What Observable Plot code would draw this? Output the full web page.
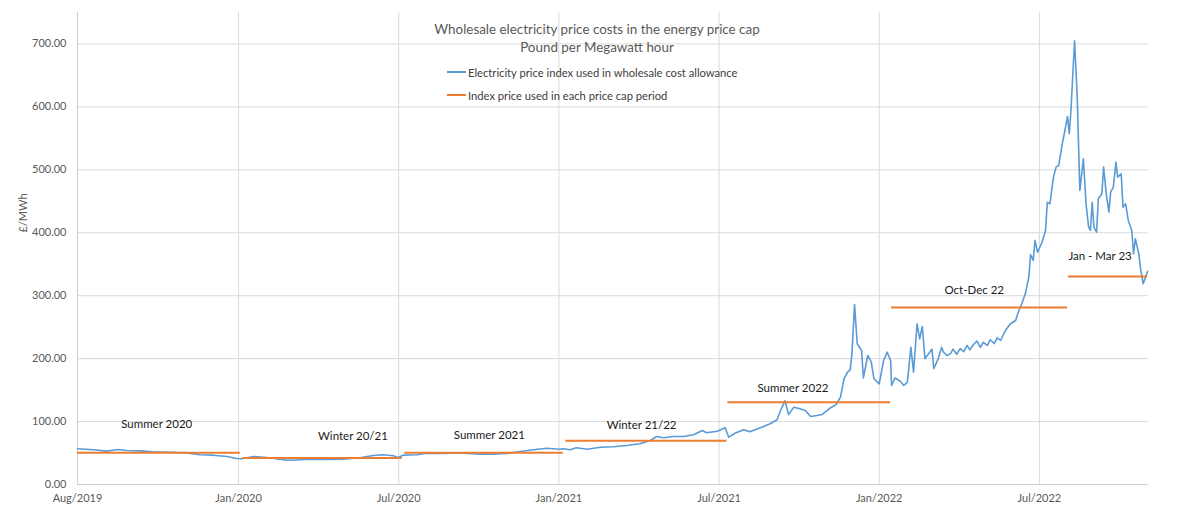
<!DOCTYPE html>
<html>
<head>
<meta charset="utf-8">
<script src="https://cdn.jsdelivr.net/npm/d3@7"></script>
<script src="https://cdn.jsdelivr.net/npm/@observablehq/plot@0.6"></script>
<style>
  html, body { margin: 0; padding: 0; background: #fff; }
  #wrap { position: relative; width: 1200px; height: 521px; font-family: Lato, "Open Sans", sans-serif; }
  .title { position: absolute; left: 0; width: 1194px; text-align: center; color: #595959; font-size: 13.4px; line-height: 16px; }
  .leg { position: absolute; left: 447px; font-size: 11.2px; color: #404040; display: flex; align-items: center; height: 14px; }
  .sw { display: inline-block; width: 19px; height: 0; border-top: 2px solid; margin-right: 2px; }
</style>
</head>
<body>
<div id="wrap"></div>
<script>
// ---- Data ----
const priceDates = [
  "2019-08-01","2019-08-19","2019-09-03","2019-09-16","2019-09-26","2019-10-11","2019-10-26","2019-11-14",
  "2019-12-03","2019-12-18","2020-01-02","2020-01-18","2020-01-29","2020-02-04","2020-02-17","2020-03-03",
  "2020-03-22","2020-04-02","2020-04-18","2020-05-10","2020-05-29","2020-06-17","2020-07-02","2020-07-13",
  "2020-07-25","2020-07-30","2020-08-05","2020-08-21","2020-09-01","2020-09-20","2020-10-09","2020-11-01",
  "2020-11-15","2020-12-01","2020-12-16","2020-12-31","2021-01-15","2021-01-30","2021-02-03","2021-02-11",
  "2021-02-18","2021-03-02","2021-03-17","2021-04-01","2021-04-16","2021-05-01","2021-05-13","2021-05-20",
  "2021-05-28","2021-06-08","2021-06-20","2021-07-01","2021-07-11","2021-07-16","2021-07-28","2021-08-06",
  "2021-08-10","2021-08-17","2021-08-27","2021-09-03","2021-09-15","2021-09-26","2021-10-04","2021-10-08",
  "2021-10-13","2021-10-17","2021-10-23","2021-10-30","2021-11-05","2021-11-11","2021-11-18","2021-11-24",
  "2021-12-02","2021-12-10","2021-12-15","2021-12-19","2021-12-23","2021-12-26","2021-12-28","2021-12-31",
  "2022-01-03","2022-01-08","2022-01-10","2022-01-15","2022-01-19","2022-01-22","2022-01-28","2022-02-02",
  "2022-02-06","2022-02-10","2022-02-11","2022-02-15","2022-02-21","2022-02-25","2022-03-01","2022-03-05",
  "2022-03-08","2022-03-12","2022-03-15","2022-03-18","2022-03-21","2022-03-25","2022-03-29","2022-03-31",
  "2022-04-05","2022-04-09","2022-04-11","2022-04-15","2022-04-19","2022-04-22","2022-04-26","2022-04-30",
  "2022-05-04","2022-05-08","2022-05-11","2022-05-15","2022-05-19","2022-05-23","2022-05-26","2022-05-31",
  "2022-06-03","2022-06-08","2022-06-11","2022-06-15","2022-06-18","2022-06-22","2022-06-26","2022-07-02",
  "2022-07-05","2022-07-09","2022-07-13","2022-07-17","2022-07-19","2022-07-22","2022-07-24","2022-07-27",
  "2022-08-01","2022-08-05","2022-08-07","2022-08-10","2022-08-14","2022-08-17","2022-08-20","2022-08-24",
  "2022-08-27","2022-08-30","2022-09-01","2022-09-03","2022-09-07","2022-09-10","2022-09-13","2022-09-17",
  "2022-09-20","2022-09-23","2022-09-25","2022-09-27","2022-09-29","2022-10-02","2022-10-04","2022-10-08",
  "2022-10-10","2022-10-13","2022-10-16","2022-10-18","2022-10-21","2022-10-24","2022-10-26","2022-10-30",
  "2022-11-01","2022-11-04","2022-11-07","2022-11-11","2022-11-13","2022-11-15","2022-11-19","2022-11-21",
  "2022-11-24","2022-11-26","2022-11-29"
];
const priceValues = [
  56.7,55.1,53.0,55.6,54.0,53.5,52.0,51.3,
  50.3,47.2,46.6,44.5,41.3,40.8,44.5,42.9,
  39.2,38.6,40.2,39.7,40.2,42.4,46.0,47.2,
  45.6,42.9,46.6,47.2,49.7,49.3,50.3,48.2,
  48.2,49.3,52.4,55.1,57.7,56.1,56.7,55.1,
  58.3,56.1,59.3,59.9,62.0,64.7,69.9,76.3,
  74.2,76.3,76.3,79.0,85.8,82.2,84.7,90.1,
  75.2,81.5,86.9,83.7,90.1,96.5,102.8,118.0,
  133.0,111.0,122.9,120.3,117.6,108.0,109.6,111.2,
  120.3,127.1,138.8,168.0,178.5,182.2,207.6,286.0,
  223.6,212.9,169.5,205.0,194.3,168.0,160.0,197.0,
  210.3,197.0,157.3,169.5,164.1,157.3,162.6,218.2,
  178.5,255.4,231.5,251.0,199.7,207.6,215.0,183.9,
  199.7,218.0,210.3,205.0,208.0,215.0,207.0,216.0,
  211.0,221.0,214.0,222.0,228.0,218.0,226.0,221.0,
  230.0,224.0,233.0,229.0,238.0,248.0,255.4,260.6,
  273.8,287.1,303.0,329.4,365.5,356.0,387.7,369.1,
  385.0,403.6,448.6,446.0,488.4,504.3,507.0,541.3,
  562.5,584.8,557.3,597.0,705.0,615.6,467.2,517.6,
  446.0,408.9,403.6,448.6,408.9,400.9,454.0,461.9,
  504.3,461.9,432.8,464.5,472.5,512.2,488.4,493.7,
  440.7,446.0,419.5,403.6,366.6,390.4,366.6,342.7,
  318.9,326.9,338.9
];

const periodNames  = ["Summer 2020","Winter 20/21","Summer 2021","Winter 21/22","Summer 2022","Oct-Dec 22","Jan - Mar 23"];
const periodStarts = ["2019-08-01","2020-02-05","2020-08-07","2021-02-06","2021-08-09","2022-02-11","2022-08-31"];
const periodEnds   = ["2020-02-02","2020-08-04","2021-02-03","2021-08-08","2022-02-10","2022-08-30","2022-11-29"];
const periodValues = [50.5, 42.2, 50.4, 69.4, 130.8, 281.3, 330.5];

// where each period's name is written (date, £/MWh)
const labelDates  = ["2019-10-30","2020-06-09","2020-11-11","2021-05-03","2021-10-22","2022-05-16","2022-10-06"];
const labelValues = [95.3, 76.3, 77.9, 94.8, 153.6, 308.3, 362.8];

const xTickDates  = ["2019-08-01","2020-01-31","2020-07-31","2021-01-29","2021-07-30","2022-01-28","2022-07-29"];
const xTickLabels = ["Aug/2019","Jan/2020","Jul/2020","Jan/2021","Jul/2021","Jan/2022","Jul/2022"];
const yTicks = [0, 100, 200, 300, 400, 500, 600, 700];

const titleText = "Wholesale electricity price costs in the energy price cap";
const subtitleText = "Pound per Megawatt hour";
const seriesNames = ["Electricity price index used in wholesale cost allowance", "Index price used in each price cap period"];
const BLUE = "#5B9BD5", ORANGE = "#ED7D31", GRID = "#d9d9d9";

// ---- Build tables ----
const parse = d3.utcParse("%Y-%m-%d");
const series = priceDates.map((d, i) => ({date: parse(d), value: priceValues[i]}));
const periods = periodNames.map((n, i) => ({name: n, start: parse(periodStarts[i]), end: parse(periodEnds[i]), value: periodValues[i]}));
const labels = periodNames.map((n, i) => ({name: n, date: parse(labelDates[i]), value: labelValues[i]}));
const xTicks = xTickDates.map(parse);
const tickLabelFor = d => { const i = xTicks.findIndex(t => +t === +d); return i >= 0 ? xTickLabels[i] : ""; };

const chart = Plot.plot({
  width: 1200,
  height: 521,
  marginLeft: 77,
  marginRight: 52,
  marginTop: 12,
  marginBottom: 37,
  style: {fontFamily: "Lato, 'Open Sans', sans-serif", fontSize: "11px", color: "#595959", background: "white", overflow: "visible"},
  x: {type: "utc", domain: [parse("2019-08-01"), parse("2022-11-30")], ticks: xTicks, tickFormat: tickLabelFor, tickSize: 0, tickPadding: 10, label: null},
  y: {domain: [0, 750], ticks: yTicks, tickFormat: d => d.toFixed(2), tickSize: 0, tickPadding: 11, label: null},
  marks: [
    Plot.ruleY(yTicks.filter(v => v > 0), {stroke: GRID, strokeWidth: 1}),
    Plot.ruleX(xTicks.slice(1), {stroke: GRID, strokeWidth: 1}),
    Plot.ruleY([0], {stroke: "#cfcfcf", strokeWidth: 1}),
    Plot.ruleX([xTicks[0]], {stroke: "#cfcfcf", strokeWidth: 1}),
    Plot.line(series, {x: "date", y: "value", stroke: BLUE, strokeWidth: 1.6, strokeLinejoin: "round"}),
    Plot.ruleY(periods, {y: "value", x1: "start", x2: "end", stroke: ORANGE, strokeWidth: 2}),
    Plot.text(labels, {x: "date", y: "value", text: "name", fill: "#1a1a1a", fontSize: 11.5}),
    Plot.text(["£/MWh"], {frameAnchor: "left", dx: -54, dy: -16, rotate: -90, fill: "#595959", fontSize: 11})
  ]
});

const wrap = document.getElementById("wrap");
wrap.appendChild(chart);

const t1 = document.createElement("div");
t1.className = "title"; t1.style.top = "21px"; t1.textContent = titleText;
const t2 = document.createElement("div");
t2.className = "title"; t2.style.top = "39px"; t2.textContent = subtitleText;
wrap.appendChild(t1); wrap.appendChild(t2);

[BLUE, ORANGE].forEach((c, i) => {
  const row = document.createElement("div");
  row.className = "leg";
  row.style.top = (i === 0 ? 65 : 88) + "px";
  const sw = document.createElement("span");
  sw.className = "sw"; sw.style.borderTopColor = c;
  const tx = document.createElement("span");
  tx.textContent = seriesNames[i];
  row.appendChild(sw); row.appendChild(tx);
  wrap.appendChild(row);
});
</script>
</body>
</html>
